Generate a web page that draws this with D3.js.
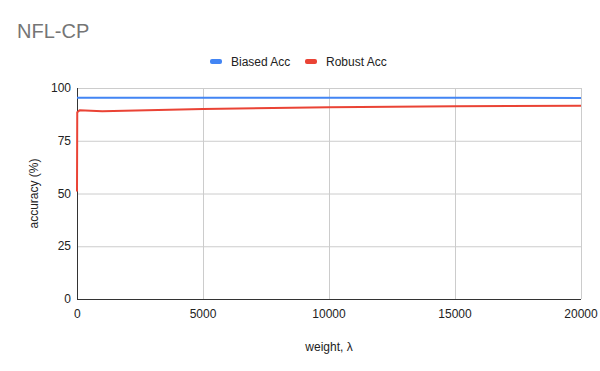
<!DOCTYPE html>
<html>
<head>
<meta charset="utf-8">
<script src="https://cdn.jsdelivr.net/npm/d3@7"></script>
<style>
  body { margin: 0; background: #fff; }
  text { font-family: Arial, "Liberation Sans", sans-serif; }
</style>
</head>
<body>
<svg id="chart" width="600" height="371"></svg>
<script>
// values
const lambdas   = [0, 10, 100, 1000, 5000, 10000, 15000, 20000];
const biasedAcc = [95.4, 95.4, 95.4, 95.4, 95.4, 95.4, 95.4, 95.3];
const robustAcc = [51, 88.5, 89.4, 89.0, 90.1, 90.9, 91.4, 91.6];
const xTicks = [0, 5000, 10000, 15000, 20000];
const yTicks = [0, 25, 50, 75, 100];
const seriesNames  = ['Biased Acc', 'Robust Acc'];
const seriesColors = ['#4285f4', '#ea4335'];

const svg = d3.select('#chart');
const m = { left: 77, right: 581, top: 88, bottom: 299 };

const x = d3.scaleLinear().domain([0, 20000]).range([m.left, m.right]);
const y = d3.scaleLinear().domain([0, 100]).range([m.bottom, m.top]);

// title
svg.append('text')
    .attr('x', 17).attr('y', 38)
    .attr('fill', '#757575').attr('font-size', '20px')
    .text('NFL-CP');

// gridlines
svg.append('g').selectAll('line').data(yTicks.filter(d => d > 0)).join('line')
    .attr('x1', m.left).attr('x2', m.right)
    .attr('y1', d => y(d) + 0.5).attr('y2', d => y(d) + 0.5)
    .attr('stroke', '#cccccc').attr('stroke-width', 1);
svg.append('g').selectAll('line').data(xTicks.filter(d => d > 0)).join('line')
    .attr('x1', d => x(d) + 0.5).attr('x2', d => x(d) + 0.5)
    .attr('y1', m.top).attr('y2', m.bottom)
    .attr('stroke', '#cccccc').attr('stroke-width', 1);

// axis lines
svg.append('line')
    .attr('x1', m.left + 0.5).attr('x2', m.left + 0.5)
    .attr('y1', m.top).attr('y2', m.bottom)
    .attr('stroke', '#333').attr('stroke-width', 1);
svg.append('line')
    .attr('x1', m.left).attr('x2', m.right)
    .attr('y1', m.bottom + 0.5).attr('y2', m.bottom + 0.5)
    .attr('stroke', '#333').attr('stroke-width', 1);

// tick labels
svg.append('g').selectAll('text').data(yTicks).join('text')
    .attr('x', 71).attr('y', d => y(d) + 4)
    .attr('text-anchor', 'end')
    .attr('fill', '#222').attr('font-size', '12px')
    .text(d => d);
svg.append('g').selectAll('text').data(xTicks).join('text')
    .attr('x', d => x(d)).attr('y', 318)
    .attr('text-anchor', (d, i) => i === 0 ? 'start' : 'middle')
    .attr('dx', (d, i) => i === 0 ? -3 : 0)
    .attr('fill', '#222').attr('font-size', '12px')
    .text(d => d);

// axis titles
svg.append('text')
    .attr('x', 329).attr('y', 351)
    .attr('text-anchor', 'middle')
    .attr('fill', '#222').attr('font-size', '12px')
    .text('weight, λ');
svg.append('text')
    .attr('transform', `translate(38,${(m.top + m.bottom) / 2}) rotate(-90)`)
    .attr('text-anchor', 'middle')
    .attr('fill', '#222').attr('font-size', '12px')
    .text('accuracy (%)');

// lines
const line = d3.line().x(d => x(d[0])).y(d => y(d[1]));
[biasedAcc, robustAcc].forEach((vals, i) => {
    svg.append('path')
        .datum(lambdas.map((l, j) => [l, vals[j]]))
        .attr('fill', 'none')
        .attr('stroke', seriesColors[i])
        .attr('stroke-width', 2)
        .attr('stroke-linejoin', 'round')
        .attr('d', line);
});

// legend
const legendX = [210, 305];
seriesNames.forEach((name, i) => {
    const g = svg.append('g').attr('transform', `translate(${legendX[i]},62)`);
    g.append('rect')
        .attr('x', 0).attr('y', -3)
        .attr('width', 12).attr('height', 5).attr('rx', 2)
        .attr('fill', seriesColors[i]);
    g.append('text')
        .attr('x', 21).attr('y', 4)
        .attr('fill', '#222').attr('font-size', '12px')
        .text(name);
});
</script>
</body>
</html>
